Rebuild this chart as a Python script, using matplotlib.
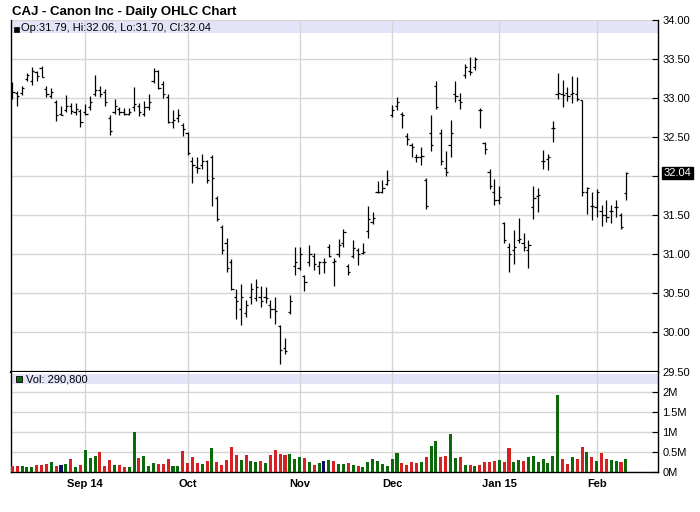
import matplotlib
matplotlib.use("Agg")
import matplotlib.pyplot as plt
from matplotlib.patches import Rectangle
import matplotlib.transforms as mtransforms

plt.rcParams['font.family'] = ['Liberation Sans', 'DejaVu Sans']

# ---------------- data ----------------
opens = [33.08, 33.06, 33.07, 33.24, 33.22, 33.33, 33.38, 33.12, 33.03, 32.95,
         32.80, 32.85, 32.90, 32.82, 32.84, 32.82, 32.88, 33.05, 33.10, 33.08,
         32.75, 32.82, 32.86, 32.82, 32.80, 32.88, 32.90, 32.80, 32.88, 33.22,
         33.35, 33.18, 33.02, 32.70, 32.75, 32.66, 32.55, 32.20, 32.12, 32.15,
         32.20, 32.25, 31.72, 31.35, 31.15, 30.90, 30.45, 30.30, 30.25, 30.45,
         30.44, 30.45, 30.45, 30.35, 30.30, 30.08, 29.80, 30.26, 30.85, 30.82,
         30.72, 30.90, 30.98, 30.85, 30.90, 31.10, 30.90, 31.00, 31.15, 30.85,
         30.98, 31.05, 31.02, 31.30, 31.42, 31.80, 31.80, 31.90, 32.78, 32.90,
         32.80, 32.52, 32.40, 32.25, 32.25, 31.95, 32.55, 33.15, 32.55, 32.10,
         32.40, 33.05, 32.98, 33.30, 33.35, 33.40, 32.85, 32.42, 32.05, 31.80,
         31.70, 31.40, 31.10, 31.05, 31.18, 31.15, 31.05, 31.60, 31.75, 32.20,
         32.22, 32.62, 33.05, 33.05, 33.06, 33.05, 33.05, 32.97, 31.80, 31.62,
         31.60, 31.55, 31.50, 31.55, 31.60, 31.50, 31.79]
highs = [33.20, 33.09, 33.16, 33.32, 33.40, 33.35, 33.41, 33.15, 33.13, 32.97,
         32.90, 33.04, 32.94, 32.94, 32.86, 32.92, 33.03, 33.29, 33.15, 33.12,
         32.78, 32.99, 32.88, 32.87, 32.87, 33.14, 32.94, 32.96, 33.05, 33.38,
         33.36, 33.22, 33.05, 32.85, 32.86, 32.68, 32.56, 32.24, 32.25, 32.28,
         32.21, 32.27, 31.75, 31.37, 31.21, 30.94, 30.56, 30.62, 30.41, 30.63,
         30.68, 30.60, 30.58, 30.42, 30.46, 30.10, 29.93, 30.48, 31.10, 31.09,
         30.74, 31.12, 31.02, 30.92, 30.95, 31.13, 30.95, 31.19, 31.32, 30.88,
         31.18, 31.08, 31.15, 31.62, 31.54, 31.94, 31.95, 32.08, 32.91, 33.01,
         32.82, 32.55, 32.42, 32.29, 32.37, 31.98, 32.78, 33.22, 32.61, 32.32,
         32.72, 33.22, 33.06, 33.44, 33.52, 33.52, 32.87, 32.44, 32.09, 31.97,
         31.87, 31.42, 31.14, 31.31, 31.47, 31.27, 31.18, 31.88, 31.85, 32.33,
         32.29, 32.71, 33.32, 33.23, 33.14, 33.28, 33.27, 32.97, 31.86, 31.80,
         31.84, 31.63, 31.69, 31.63, 31.69, 31.53, 32.06]
lows = [32.99, 32.90, 33.04, 33.22, 33.17, 33.22, 33.27, 33.02, 33.00, 32.71,
        32.78, 32.82, 32.80, 32.79, 32.63, 32.78, 32.85, 33.03, 33.01, 32.90,
        32.53, 32.80, 32.78, 32.78, 32.78, 32.84, 32.77, 32.77, 32.85, 33.19,
        33.12, 33.00, 32.68, 32.62, 32.70, 32.51, 32.27, 31.91, 32.04, 32.09,
        31.91, 31.62, 31.43, 31.01, 30.77, 30.54, 30.17, 30.10, 30.20, 30.37,
        30.40, 30.32, 30.38, 30.19, 30.11, 29.59, 29.73, 30.23, 30.74, 30.80,
        30.53, 30.85, 30.80, 30.75, 30.76, 30.97, 30.59, 30.97, 31.10, 30.74,
        30.95, 30.86, 31.00, 31.21, 31.39, 31.78, 31.79, 31.89, 32.76, 32.85,
        32.62, 32.40, 32.24, 32.18, 32.15, 31.58, 32.32, 32.86, 32.15, 32.00,
        32.25, 32.95, 32.86, 33.26, 33.30, 33.36, 32.62, 32.28, 31.84, 31.63,
        31.64, 31.14, 30.78, 30.88, 31.15, 31.04, 30.83, 31.45, 31.54, 32.09,
        32.08, 32.44, 32.99, 32.89, 32.96, 32.94, 32.96, 31.75, 31.51, 31.44,
        31.48, 31.36, 31.41, 31.40, 31.48, 31.33, 31.70]
closes = [33.08, 33.03, 33.13, 33.30, 33.35, 33.28, 33.27, 33.05, 33.08, 32.78,
          32.78, 32.90, 32.84, 32.86, 32.70, 32.80, 32.95, 33.10, 33.05, 32.95,
          32.58, 32.90, 32.82, 32.80, 32.82, 32.92, 32.82, 32.88, 32.95, 33.35,
          33.13, 33.05, 32.70, 32.72, 32.78, 32.60, 32.30, 32.15, 32.10, 32.20,
          31.95, 31.98, 31.45, 31.05, 30.82, 30.55, 30.40, 30.45, 30.35, 30.55,
          30.58, 30.40, 30.44, 30.30, 30.28, 29.78, 29.76, 30.40, 30.90, 31.00,
          30.65, 31.00, 30.88, 30.90, 30.90, 30.98, 30.92, 31.12, 31.28, 30.78,
          31.08, 31.00, 31.03, 31.45, 31.46, 31.80, 31.85, 31.95, 32.85, 32.95,
          32.78, 32.48, 32.38, 32.25, 32.26, 31.62, 32.40, 32.88, 32.20, 32.05,
          32.55, 33.03, 32.95, 33.40, 33.33, 33.50, 32.85, 32.35, 31.88, 31.70,
          31.73, 31.18, 31.00, 31.10, 31.20, 31.10, 31.12, 31.72, 31.76, 32.20,
          32.24, 32.62, 33.06, 33.04, 33.03, 33.06, 32.99, 31.80, 31.85, 31.62,
          31.80, 31.50, 31.48, 31.56, 31.60, 31.35, 32.04]
volumes_m = [0.15, 0.15, 0.15, 0.125, 0.125, 0.175, 0.175, 0.2, 0.24, 0.15,
             0.175, 0.2, 0.325, 0.125, 0.175, 0.55, 0.35, 0.4, 0.5, 0.15,
             0.3, 0.175, 0.175, 0.125, 0.125, 1.0, 0.35, 0.4, 0.15, 0.225,
             0.2, 0.2, 0.325, 0.15, 0.15, 0.525, 0.225, 0.375, 0.225, 0.2,
             0.275, 0.6, 0.25, 0.175, 0.3, 0.625, 0.425, 0.3, 0.425, 0.275,
             0.25, 0.275, 0.225, 0.425, 0.55, 0.45, 0.425, 0.45, 0.325, 0.375,
             0.35, 0.25, 0.175, 0.225, 0.275, 0.3, 0.275, 0.2, 0.2, 0.225,
             0.175, 0.15, 0.125, 0.25, 0.325, 0.275, 0.2, 0.15, 0.325, 0.475,
             0.225, 0.175, 0.25, 0.225, 0.25, 0.375, 0.65, 0.775, 0.375, 0.4,
             0.95, 0.35, 0.375, 0.175, 0.175, 0.15, 0.175, 0.25, 0.25, 0.275,
             0.3, 0.25, 0.6, 0.25, 0.3, 0.275, 0.375, 0.4, 0.25, 0.325,
             0.225, 0.4, 1.925, 0.325, 0.2, 0.375, 0.325, 0.625, 0.5, 0.375,
             0.275, 0.475, 0.325, 0.3, 0.275, 0.25, 0.325]
# volume bar colour code per day: g = up, r = down, b = unchanged
vol_dir = ("rrgggrrrgr" "bgrgrgggrr" "rgrrggrggg" "rrrggrrrrg" "rgrrrrrgrg"
           "grgrrrrggg" "rgrgbgrggr" "grgggggggg" "rrrrgrggrr" "ggrgrgrrrr"
           "grrggrgggg" "gggrrgrrgr" "grrggrg")
month_labels = ["Sep 14", "Oct", "Nov", "Dec", "Jan 15", "Feb"]
month_pos = [15, 36, 59, 78, 100, 120]
price_ticks = [29.5, 30.0, 30.5, 31.0, 31.5, 32.0, 32.5, 33.0, 33.5, 34.0]
price_labels = ["29.50", "30.00", "30.50", "31.00", "31.50", "", "32.50", "33.00", "33.50", "34.00"]
vol_ticks = [0, 0.5, 1.0, 1.5, 2.0]
vol_labels = ["0M", "0.5M", "1M", "1.5M", "2M"]
last_close = 32.04
header_text = "Op:31.79, Hi:32.06, Lo:31.70, Cl:32.04"
vol_text = "Vol: 290,800"
title = "CAJ - Canon Inc - Daily OHLC Chart"

# ---------------- layout ----------------
W, H = 700, 512
fig = plt.figure(figsize=(W / 100, H / 100), dpi=100)
fig.patch.set_facecolor("white")

def fx(px):
    return px / W

def fy(py):
    return 1 - py / H

x_left, x_right = 11, 658
p_top, p_bot = 20, 371.5
v_top, v_bot = 371.5, 472

axp = fig.add_axes([fx(x_left), fy(p_bot), fx(x_right - x_left), (p_bot - p_top) / H])
axv = fig.add_axes([fx(x_left), fy(v_bot), fx(x_right - x_left), (v_bot - v_top) / H])

n = len(closes)
xs = list(range(n))
xmin = -0.27
xmax = 132.6
grid_c = "#D6D6D6"
band_c = "#E4E4F8"
green = "#0A6A0A"

# price panel
axp.set_xlim(xmin, xmax)
axp.set_ylim(29.5, 34.0)
axp.set_axisbelow(True)
axp.set_yticks(price_ticks)
axp.set_yticklabels(price_labels)
axp.yaxis.tick_right()
axp.tick_params(axis="y", direction="in", length=4, width=0.8, pad=3, labelsize=8, colors="black")
axp.set_xticks(month_pos)
axp.tick_params(axis="x", length=0, labelbottom=False)
axp.grid(True, color=grid_c, linewidth=1.0)
axp.spines["top"].set_visible(False)
axp.spines["left"].set_linewidth(1.0)
axp.spines["right"].set_linewidth(1.0)
axp.spines["bottom"].set_linewidth(1.6)

band_h = 13 / (p_bot - p_top)
axp.add_patch(Rectangle((0, 1 - band_h), 1, band_h, transform=axp.transAxes,
                        facecolor=band_c, edgecolor="none", zorder=0.2))

tw = 0.45
axp.vlines(xs, lows, highs, color="black", linewidth=0.9, zorder=3)
axp.hlines(opens, [x - tw for x in xs], xs, color="black", linewidth=0.9, zorder=3)
axp.hlines(closes, xs, [x + tw for x in xs], color="black", linewidth=0.9, zorder=3)

# header text with square markers
fig.patches.append(Rectangle((fx(13.5), fy(32)), fx(5), 5 / H, transform=fig.transFigure,
                             facecolor="black", edgecolor="black", linewidth=0.5, zorder=5))
fig.text(fx(21), fy(31), header_text, fontsize=8, va="baseline", ha="left", color="black", zorder=5)

# last close highlight
trans = mtransforms.blended_transform_factory(axp.transAxes, axp.transData)
axp.text(1.0 + 5.5 / (x_right - x_left), last_close, f"{last_close:.2f}", transform=trans,
         fontsize=8, color="white", va="center", ha="left", zorder=6,
         bbox=dict(boxstyle="square,pad=0.12", facecolor="black", edgecolor="black"),
         clip_on=False)

# volume panel
axv.set_xlim(xmin, xmax)
axv.set_ylim(0, (v_bot - v_top) / 40.0)
axv.set_axisbelow(True)
axv.set_yticks(vol_ticks)
axv.set_yticklabels(vol_labels)
axv.yaxis.tick_right()
axv.tick_params(axis="y", direction="in", length=4, width=0.8, pad=3, labelsize=8, colors="black")
axv.set_xticks(month_pos)
axv.set_xticklabels(month_labels, fontweight="bold", fontsize=8)
axv.tick_params(axis="x", length=0, pad=5)
axv.grid(True, color=grid_c, linewidth=1.0)
axv.spines["top"].set_visible(False)
axv.spines["left"].set_linewidth(1.0)
axv.spines["right"].set_linewidth(1.0)
axv.spines["bottom"].set_linewidth(1.0)

vband_top = (v_bot - 374) / (v_bot - v_top)
vband_bot = (v_bot - 384) / (v_bot - v_top)
axv.add_patch(Rectangle((0, vband_bot), 1, vband_top - vband_bot, transform=axv.transAxes,
                        facecolor=band_c, edgecolor="none", zorder=0.2))

cmap = {"g": green, "r": "#D42222", "b": "#10105A"}
vcols = [cmap[c] for c in vol_dir[:n]]
axv.bar(xs, volumes_m, width=0.62, color=vcols, zorder=3)

fig.patches.append(Rectangle((fx(16), fy(382)), fx(6), 6 / H, transform=fig.transFigure,
                             facecolor=green, edgecolor="black", linewidth=0.6, zorder=5))
fig.text(fx(26), fy(382.5), vol_text, fontsize=8, va="baseline", ha="left", color="black", zorder=5)

# title
fig.text(fx(12), fy(15), title, fontsize=9.5, fontweight="bold", va="baseline", ha="left")

fig.savefig("out.png", dpi=100)
